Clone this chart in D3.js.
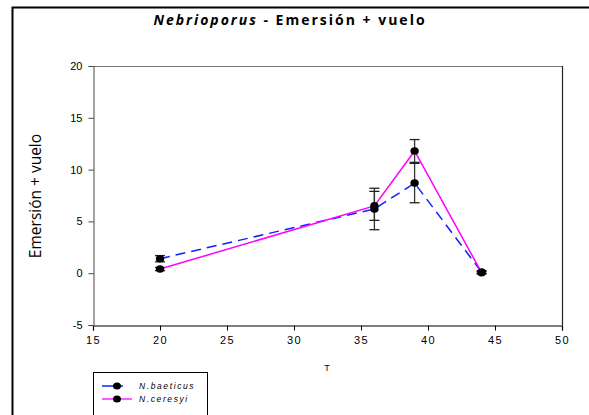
<!DOCTYPE html>
<html>
<head>
<meta charset="utf-8">
<script src="https://cdn.jsdelivr.net/npm/d3@7"></script>
<style>
  html, body { margin: 0; padding: 0; background: #fff; }
  svg { display: block; }
</style>
</head>
<body>
<svg id="chart" width="589" height="415"></svg>
<script>
// Temperatures (x) and emergence + flight values per species
const temps = [20, 36, 39, 44];
const baeticus = [1.4, 6.2, 8.7, 0.1];
const baeticusErr = [0.3, 2.0, 1.9, 0.15];
const ceresyi = [0.4, 6.5, 11.8, 0.05];
const ceresyiErr = [0.15, 1.4, 1.1, 0.1];
const xTicks = [15, 20, 25, 30, 35, 40, 45, 50];
const yTicks = [-5, 0, 5, 10, 15, 20];
const seriesNames = ["N.baeticus", "N.ceresyi"];

const svg = d3.select("#chart");
const fmt = d => String(d); // plain hyphen for negatives

// outer chart frame (extends past the right and bottom edges)
svg.append("path")
  .attr("d", "M12.5,420 L12.5,7.5 L600,7.5")
  .attr("fill", "none").attr("stroke", "#000").attr("stroke-width", 2);

const x = d3.scaleLinear().domain([15, 50]).range([93, 562]);
const y = d3.scaleLinear().domain([-5, 20]).range([325, 66]);

// plot box: top and right
svg.append("line").attr("x1", x(15)).attr("x2", x(50)).attr("y1", y(20) + 0.5).attr("y2", y(20) + 0.5)
  .attr("stroke", "#777").attr("stroke-width", 1.2);
svg.append("line").attr("x1", x(50) + 0.5).attr("x2", x(50) + 0.5).attr("y1", y(20)).attr("y2", y(-5))
  .attr("stroke", "#222").attr("stroke-width", 1.2);

// axes
const xAxis = svg.append("g").attr("transform", `translate(0,${y(-5) + 0.5})`)
  .call(d3.axisBottom(x).tickValues(xTicks).tickSize(5).tickPadding(6).tickFormat(fmt));
xAxis.select(".domain").attr("stroke", "#000").attr("stroke-width", 1.2);
xAxis.selectAll(".tick line").attr("stroke", "#000");
xAxis.selectAll("text").attr("font-family", "Arial, 'Liberation Sans', sans-serif")
  .attr("font-size", 11).attr("letter-spacing", "1.5px").attr("fill", "#000");

const yAxis = svg.append("g").attr("transform", `translate(${x(15) + 0.5},0)`)
  .call(d3.axisLeft(y).tickValues(yTicks).tickSize(5).tickPadding(6).tickFormat(fmt));
yAxis.select(".domain").attr("stroke", "#666").attr("stroke-width", 1.2);
yAxis.selectAll(".tick line").attr("stroke", "#444");
yAxis.selectAll("text").attr("font-family", "Arial, 'Liberation Sans', sans-serif")
  .attr("font-size", 11).attr("fill", "#000");

// title
const title = svg.append("text").attr("x", 290).attr("y", 25).attr("text-anchor", "middle")
  .attr("font-family", "'Open Sans', 'DejaVu Sans', sans-serif").attr("font-weight", "bold")
  .attr("font-size", 14).attr("letter-spacing", "2px");
title.append("tspan").attr("font-style", "italic").text("Nebrioporus");
title.append("tspan").text(" - Emersión + vuelo");

// axis titles
svg.append("text").attr("transform", `translate(41,196) rotate(-90)`).attr("text-anchor", "middle")
  .attr("font-family", "'Open Sans', sans-serif").attr("font-size", 15.5).text("Emersión + vuelo");
svg.append("text").attr("x", 327).attr("y", 371).attr("text-anchor", "middle")
  .attr("font-family", "Arial, 'Liberation Sans', sans-serif").attr("font-size", 9).text("T");

const series = [
  { name: seriesNames[0], vals: baeticus, err: baeticusErr, color: "#1020ff", dash: "10,6" },
  { name: seriesNames[1], vals: ceresyi, err: ceresyiErr, color: "#ff00ff", dash: null }
];

const line = d3.line().x(d => x(d[0])).y(d => y(d[1]));

// error bars
series.forEach(s => {
  const g = svg.append("g");
  temps.forEach((t, i) => {
    const cx = x(t), lo = y(s.vals[i] - s.err[i]), hi = y(s.vals[i] + s.err[i]);
    g.append("line").attr("x1", cx).attr("x2", cx).attr("y1", lo).attr("y2", hi)
      .attr("stroke", "#333").attr("stroke-width", 1.3);
    [lo, hi].forEach(v => g.append("line").attr("x1", cx - 5).attr("x2", cx + 5).attr("y1", v).attr("y2", v)
      .attr("stroke", "#222").attr("stroke-width", 1.3));
  });
});

// lines and markers
series.forEach(s => {
  const pts = temps.map((t, i) => [t, s.vals[i]]);
  svg.append("path").datum(pts).attr("d", line).attr("fill", "none")
    .attr("stroke", s.color).attr("stroke-width", 1.5)
    .attr("stroke-dasharray", s.dash);
});
series.forEach(s => {
  svg.append("g").selectAll("ellipse").data(temps).join("ellipse")
    .attr("cx", d => x(d)).attr("cy", (d, i) => y(s.vals[i]))
    .attr("rx", 4.2).attr("ry", 3.8).attr("fill", "#000");
});

// legend
const lg = svg.append("g");
lg.append("rect").attr("x", 93.5).attr("y", 372.5).attr("width", 114).attr("height", 45)
  .attr("fill", "#fff").attr("stroke", "#000").attr("stroke-width", 1);
series.forEach((s, i) => {
  const ly = 386 + i * 13;
  lg.append("line").attr("x1", 102).attr("x2", 132).attr("y1", ly).attr("y2", ly)
    .attr("stroke", s.color).attr("stroke-width", 1.3)
    .attr("stroke-dasharray", s.dash ? "12,4,5,20" : null);
  lg.append("ellipse").attr("cx", 117).attr("cy", ly).attr("rx", 4).attr("ry", 3.5).attr("fill", "#000");
  lg.append("text").attr("x", 139).attr("y", ly + 3).attr("font-family", "Arial, 'Liberation Sans', sans-serif")
    .attr("font-style", "italic").attr("font-size", 8.5).attr("letter-spacing", "1.6px").text(s.name);
});
</script>
</body>
</html>
